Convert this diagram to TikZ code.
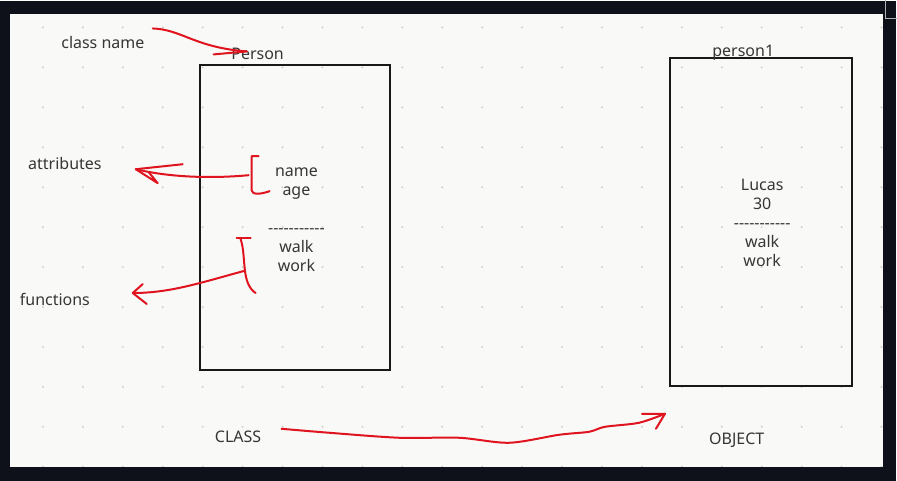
\documentclass[tikz,border=0pt]{standalone}
\usepackage{fontspec}
\newfontfamily\sketchfont{Noto Sans}

\definecolor{frame}{HTML}{0E1119}
\definecolor{paper}{HTML}{F9F9F7}
\definecolor{griddot}{HTML}{CFCFCB}
\definecolor{inkred}{HTML}{E0141E}
\definecolor{txtgray}{HTML}{363636}

\tikzset{
	note/.style={font=\sketchfont\fontsize{16}{19}\selectfont, text=txtgray, inner sep=0pt},
	members/.style={note, align=center},
	classbox/.style={draw=black!90, line width=2pt, inner sep=0pt},
	ink/.style={draw=inkred, line width=2pt, line cap=round, line join=round},
}

\newcommand{\dashrow}{-{}-{}-{}-{}-{}-{}-{}-{}-{}-{}-}

\begin{document}
\begin{tikzpicture}[x=1pt, y=-1pt]

		% canvas and dot grid
		\fill[frame] (0,0) rectangle (897,480);
		\fill[paper] (10,13) rectangle (884,466);
		\draw[gray!60, line width=1pt] (886.5,-1) |- (898,17.5);
		\begin{scope}
			\clip (10,13) rectangle (884,466);
			\foreach \gx in {43,83,...,883}
				\foreach \gy in {26,66,...,466}
					\fill[griddot] (\gx,\gy) circle (1.1pt);
		\end{scope}

		% class
		\node[classbox, minimum width=191pt, minimum height=305pt] (person) at (295.5,216.5) {};
		\node[members] (personmembers) at (299,219) {
			\begin{tabular}{c}
				name    \\
				age     \\
				        \\
				\dashrow \\
				walk    \\
				work
			\end{tabular}
		};
		\node[note, anchor=base] (persontitle) at (258,58) {Person};

		% object
		\node[classbox, minimum width=182pt, minimum height=328pt] (person1) at (762,221) {};
		\node[members] (person1members) at (765.5,224) {
			\begin{tabular}{c}
				Lucas   \\
				30      \\
				\dashrow \\
				walk    \\
				work
			\end{tabular}
		};
		\node[note, anchor=base] (person1title) at (744.5,55) {person1};

		% side notes
		\node[note, anchor=base] (classname) at (103,47) {class name};
		\node[note, anchor=base] (attributes) at (65,168) {attributes};
		\node[note, anchor=base] (functions) at (55,305) {functions};
		\node[note, anchor=base] (classlabel) at (238.5,442) {CLASS};
		\node[note, anchor=base] (objectlabel) at (738,444) {OBJECT};

		% red marks
		\coordinate (cnStart) at (153,27);
		\coordinate (cnTip) at (247,50);
		\draw[ink] (cnStart) .. controls (182,28) and (195,46) .. (cnTip);
		\draw[ink] (cnTip) -- ++(-33,3);

		\draw[ink] (259,155) -- (252,155) -- (252,189) .. controls (252,194) and (262,193) .. (270,190);
		\coordinate (attrBrace) at (249,174);
		\coordinate (attrTip) at (136,168);
		\draw[ink] (attrBrace) .. controls (205,178) and (165,175) .. (attrTip);
		\draw[ink] (183,163) -- (attrTip) -- (158,182) -- (149,171);

		\draw[ink] (237,237) -- (251,237);
		\draw[ink] (241,238) .. controls (247,255) and (241,282) .. (256,292);
		\coordinate (funcBrace) at (244,270);
		\coordinate (funcTip) at (133,292);
		\draw[ink] (funcBrace) .. controls (200,282) and (170,292) .. (funcTip);
		\draw[ink] (143,283) -- (funcTip) -- (147,303);

		\coordinate (clsStart) at (282,428);
		\coordinate (clsTip) at (666,413);
		\draw[ink] plot[smooth, tension=0.5] coordinates {(clsStart) (330,432) (400,437) (460,437) (510,442) (560,434) (590,431) (606,426) (640,422) (clsTip)};
		\draw[ink] (643,413) -- (clsTip) -- (657,428);

	\end{tikzpicture}
\end{document}
